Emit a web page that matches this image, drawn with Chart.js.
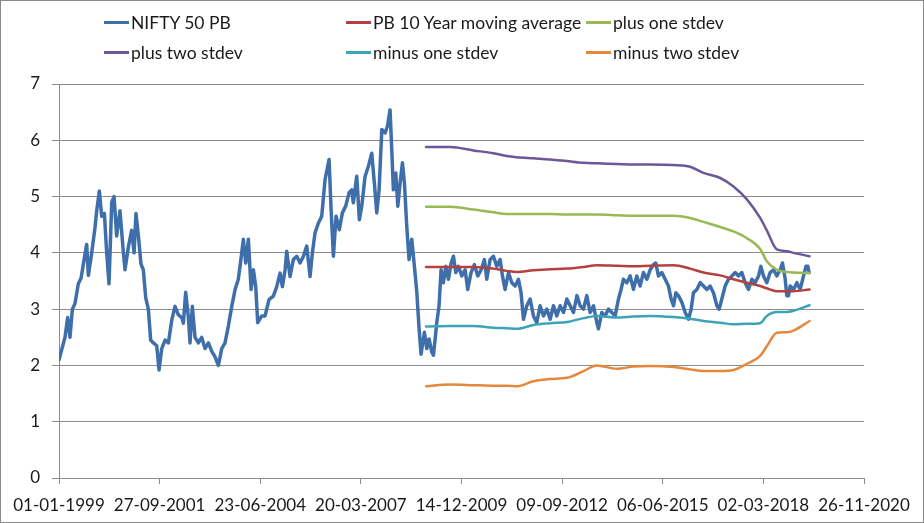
<!DOCTYPE html>
<html>
<head>
<meta charset="utf-8">
<script src="https://cdn.jsdelivr.net/npm/chart.js@4.4.0/dist/chart.umd.min.js"></script>
<style>
html,body{margin:0;padding:0;background:#fff;}
#wrap{position:relative;width:924px;height:523px;}
#frame{position:absolute;left:0;top:0;width:922px;height:521px;border:1px solid #8a8a8a;pointer-events:none;}
#legend{position:absolute;left:104px;top:7px;display:grid;grid-template-columns:242px 240px 200px;grid-auto-rows:30px;font:17.5px Lato,sans-serif;color:#1a1a1a;}
.item{display:flex;align-items:center;white-space:nowrap;}
.swatch{width:25px;height:3px;margin-right:2px;}
</style>
</head>
<body>
<div id="wrap">
  <canvas id="pbChart" width="924" height="523"></canvas>
  <div id="legend"></div>
  <div id="frame"></div>
</div>
<script>
// x values are days counted from 01-01-1999
const xTickLabels = ['01-01-1999','27-09-2001','23-06-2004','20-03-2007','14-12-2009','09-09-2012','06-06-2015','02-03-2018','26-11-2020'];
const yTicks = [0,1,2,3,4,5,6,7];

const niftyDays = [0,27,60,86,109,133,159,192,219,242,275,292,325,358,375,401,424,451,474,497,524,547,573,606,640,656,689,722,746,765,789,815,838,862,888,911,938,971,994,1021,1054,1087,1120,1153,1186,1220,1236,1259,1286,1302,1325,1352,1385,1418,1451,1485,1518,1551,1584,1617,
  1650,1683,1717,1750,1782,1809,1832,1856,1882,1909,1932,1955,1975,2015,2048,2087,2130,2164,2197,2220,2247,2263,2296,2329,2363,2396,2429,2462,2495,2518,2545,2578,2611,2644,2684,2704,2727,2753,2786,2816,2849,2883,2909,2925,2959,2985,3009,3042,3075,3108,3134,3158,3181,3208,3241,3264,3290,3307,3323,3347,3367,3390,3413,3433,3456,3479,3506,3532,3556,3579,3598,
  3631,3655,3678,3704,3721,3738,3754,3777,3797,3820,3844,3870,3897,3920,3943,3970,4003,4036,4062,4095,4128,4162,4195,4228,4251,4284,4317,4351,4384,4407,4433,4467,4500,4533,4566,4592,4616,4649,4682,4715,4748,4781,4815,4848,4881,4914,4947,4980,5014,5047,5080,5113,5147,5179,5212,5245,5278,5312,5345,5361,5394,5427,5461,5494,
  5527,5560,5586,5609,5643,5676,5709,5742,5775,5808,5842,5875,5908,5931,5957,5991,6024,6057,6083,6107,6130,6156,6190,6223,6256,6282,6305,6339,6372,6405,6438,6471,6504,6538,6561,6587,6620,6653,6687,6720,6753,6786,6819,6852,6886,6918,6952,6975,7001,7034,7067,7101,7134,7167,7190,7217,7233,7250,7266,7300,7333,7366,7399,7423,7442,7455];
const niftyPB = [2.1,2.28,2.5,2.85,2.5,3.0,3.1,3.45,3.55,3.8,4.15,3.6,4.0,4.45,4.75,5.1,4.65,4.7,4.0,3.45,4.9,5.0,4.3,4.75,4.0,3.7,4.1,4.4,4.0,4.7,4.3,3.8,3.7,3.2,3.0,2.45,2.4,2.35,1.92,2.3,2.45,2.4,2.8,3.05,2.9,2.85,2.75,3.3,2.85,2.4,3.05,2.5,2.4,2.5,2.3,2.4,2.25,2.15,2.0,2.3,
  2.4,2.7,3.05,3.35,3.53,3.9,4.24,3.82,4.24,3.35,3.7,3.4,2.76,2.88,2.88,3.17,3.23,3.4,3.64,3.4,3.7,4.03,3.58,3.88,3.94,3.82,3.94,4.12,3.58,4.0,4.36,4.53,4.65,5.3,5.66,4.77,3.94,4.65,4.41,4.71,4.83,5.07,5.12,4.89,5.36,4.59,4.83,5.36,5.54,5.77,5.24,4.71,5.12,6.19,6.13,6.25,6.54,5.83,5.12,5.42,4.83,5.24,5.6,5.24,4.47,3.88,4.24,3.76,3.3,2.64,2.2,
  2.59,2.3,2.47,2.24,2.18,2.47,2.76,3.06,3.7,3.47,3.76,3.53,3.82,3.94,3.65,3.76,3.59,3.7,3.35,3.65,3.79,3.59,3.7,3.88,3.53,3.88,3.94,3.76,3.88,3.59,3.35,3.65,3.47,3.41,3.53,3.29,2.82,3.06,3.18,2.88,2.76,3.06,2.88,3.0,2.82,3.06,2.88,3.06,2.94,3.18,3.06,2.94,3.24,3.06,3.0,3.24,2.94,3.06,2.76,2.65,2.94,2.88,3.0,2.94,
  2.88,3.18,3.35,3.53,3.47,3.59,3.35,3.59,3.41,3.65,3.53,3.7,3.79,3.82,3.59,3.65,3.53,3.41,3.18,3.06,3.29,3.24,3.12,2.94,2.82,3.0,3.29,3.35,3.47,3.41,3.35,3.41,3.29,3.06,3.0,3.18,3.41,3.53,3.59,3.65,3.59,3.65,3.47,3.35,3.53,3.47,3.59,3.76,3.59,3.47,3.65,3.7,3.59,3.7,3.82,3.53,3.24,3.24,3.41,3.35,3.47,3.35,3.59,3.76,3.76,3.65];

const bandDays = [3648,3887,4118,4317,4450,4549,4715,4881,5047,5212,5345,5543,5709,5875,6107,6272,6405,6571,6703,6836,6968,7034,7134,7233,7300,7459];
const movingAvg = [3.75,3.75,3.75,3.72,3.68,3.66,3.69,3.71,3.72,3.75,3.78,3.77,3.76,3.77,3.78,3.72,3.65,3.6,3.53,3.47,3.41,3.37,3.32,3.32,3.32,3.35];
const plusOne   = [4.82,4.82,4.77,4.72,4.69,4.69,4.69,4.69,4.68,4.68,4.68,4.67,4.66,4.66,4.66,4.62,4.55,4.46,4.38,4.26,4.07,3.85,3.7,3.66,3.65,3.64];
const plusTwo   = [5.88,5.88,5.82,5.77,5.72,5.7,5.68,5.66,5.63,5.6,5.59,5.58,5.57,5.57,5.56,5.53,5.42,5.33,5.18,4.95,4.62,4.4,4.06,4.03,4.0,3.94];
const minusOne  = [2.69,2.7,2.7,2.67,2.66,2.65,2.72,2.75,2.77,2.84,2.88,2.85,2.87,2.88,2.86,2.83,2.79,2.76,2.73,2.74,2.75,2.88,2.95,2.95,2.97,3.07];
const minusTwo  = [1.63,1.66,1.65,1.64,1.64,1.63,1.72,1.76,1.78,1.9,2.0,1.94,1.98,1.99,1.97,1.93,1.9,1.9,1.92,2.03,2.17,2.34,2.58,2.59,2.62,2.79];

const toPoints = (xs, ys) => xs.map((x, i) => ({x: x, y: ys[i]}));
const gridGray = '#8c8c8c';
const tickFont = {family: 'Lato', size: 17};

function series(label, xs, ys, color, width, order, smooth){
  return {label, data: toPoints(xs, ys), borderColor: color, backgroundColor: color,
    borderWidth: width, pointRadius: 0, tension: 0, order,
    borderJoinStyle: 'round', borderCapStyle: 'round',
    cubicInterpolationMode: smooth ? 'monotone' : 'default'};
}

const chart = new Chart(document.getElementById('pbChart'), {
  type: 'line',
  data: {
    datasets: [
      series('NIFTY 50 PB', niftyDays, niftyPB, '#3f6fab', 3.5, 2, false),
      series('PB 10 Year moving average', bandDays, movingAvg, '#b4413d', 2.5, 1, true),
      series('plus one stdev', bandDays, plusOne, '#98b954', 2.5, 1, true),
      series('plus two stdev', bandDays, plusTwo, '#6c5898', 2.5, 1, true),
      series('minus one stdev', bandDays, minusOne, '#3ca3b8', 2.5, 1, true),
      series('minus two stdev', bandDays, minusTwo, '#e6883c', 2.5, 1, true)
    ]
  },
  options: {
    responsive: false,
    animation: false,
    layout: {padding: {left: 0, top: 84, right: 60, bottom: 0}},
    plugins: {legend: {display: false}, tooltip: {enabled: false}},
    scales: {
      x: {
        type: 'linear', min: 0, max: 8000,
        afterBuildTicks: s => { s.ticks = xTickLabels.map((_, i) => ({value: i * 1000})); },
        afterFit: s => { s.height = 45; },
        grid: {drawOnChartArea: false, drawTicks: true, tickLength: 6, color: gridGray},
        border: {display: true, color: gridGray},
        ticks: {autoSkip: false, maxRotation: 0, padding: 11, color: '#1a1a1a', font: tickFont,
          callback: v => xTickLabels[Math.round(v / 1000)]}
      },
      y: {
        min: 0, max: 7,
        afterBuildTicks: s => { s.ticks = yTicks.map(v => ({value: v})); },
        afterFit: s => { s.width = 59; },
        grid: {color: gridGray, tickLength: 7},
        border: {display: true, color: gridGray},
        ticks: {padding: 12, color: '#1a1a1a', font: tickFont}
      }
    }
  }
});

// legend laid out in three columns like the original
const legend = document.getElementById('legend');
chart.data.datasets.forEach(ds => {
  const item = document.createElement('div');
  item.className = 'item';
  const sw = document.createElement('span');
  sw.className = 'swatch';
  sw.style.background = ds.borderColor;
  item.appendChild(sw);
  item.appendChild(document.createTextNode(ds.label));
  legend.appendChild(item);
});
</script>
</body>
</html>
